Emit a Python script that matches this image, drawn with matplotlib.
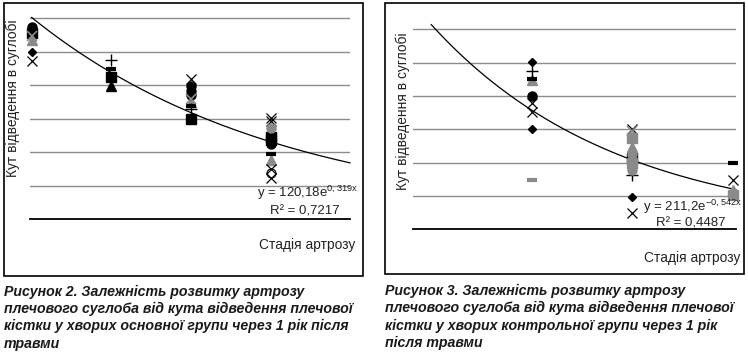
import numpy as np
import matplotlib
matplotlib.use('Agg')
import matplotlib.pyplot as plt
from matplotlib.patches import Rectangle

plt.rcParams['font.family'] = ['Liberation Sans', 'DejaVu Sans']
plt.rcParams['mathtext.fontset'] = 'custom'
plt.rcParams['mathtext.rm'] = 'Liberation Sans'
plt.rcParams['mathtext.it'] = 'Liberation Sans:italic'

# ---- data: left panel (main group) ----
left_stage = [1, 1, 1, 1, 1, 1,
              2, 2, 2, 2,
              3, 3, 3, 3, 3, 3, 3, 3, 3,
              4, 4, 4, 4, 4, 4, 4, 4, 4, 4, 4]
left_angle = [83.3, 80.8, 79.2, 77.8, 72.4, 68.7,
              69.0, 65.1, 61.6, 57.8,
              60.7, 57.5, 55.5, 54.0, 52.0, 50.6, 49.2, 47.7, 43.4,
              43.8, 42.4, 39.7, 35.6, 34.5, 32.5, 28.2, 25.7, 21.8, 20.0, 17.8]
left_series = [5, 1, 11, 2, 0, 3,
               6, 7, 1, 12,
               3, 5, 5, 5, 11, 2, 7, 6, 1,
               3, 3, 8, 1, 1, 5, 7, 2, 3, 13, 3]
left_fit = (120.18, -0.319)
left_r2 = '0,7217'

# ---- data: right panel (control group) ----
right_stage = [2, 2, 2, 2, 2, 2, 2, 2, 2,
               3, 3, 3, 3, 3, 3, 3, 3, 3, 3, 3, 3,
               4, 4, 4, 4, 4]
right_angle = [100.2, 95.0, 89.6, 90.0, 80.0, 75.6, 70.6, 60.0, 29.4,
               60.0, 58.8, 54.6, 49.6, 45.2, 43.0, 40.0, 40.0, 35.6, 32.6, 19.6, 9.6,
               39.6, 29.6, 23.6, 20.6, 21.5]
right_series = [0, 6, 2, 7, 5, 3, 3, 0, 10,
                3, 11, 9, 2, 8, 1, 3, 9, 8, 6, 0, 3,
                7, 3, 2, 9, 7]
right_fit = (211.2, -0.542)
right_r2 = '0,4487'

y_label = 'Кут відведення в суглобі'
x_label = 'Стадія артрозу'
left_caption = ['Рисунок 2. Залежність розвитку артрозу',
                'плечового суглоба від кута відведення плечової',
                'кістки у хворих основної групи через 1 рік після',
                'травми']
right_caption = ['Рисунок 3. Залежність розвитку артрозу',
                 'плечового суглоба від кута відведення плечової',
                 'кістки у хворих контрольної групи через 1 рік',
                 'після травми']

# marker styles for the series (grayscale Excel look)
GREY = '#8a8a8a'
STYLES = {
    0: dict(marker='D', ms=4.5, color='black'),
    1: dict(marker='s', ms=7.5, color='black'),
    2: dict(marker='^', ms=6.5, color=GREY),
    3: dict(marker='x', ms=7.5, color='black', mew=0.9),
    5: dict(marker='o', ms=6.5, color='black'),
    6: dict(marker='+', ms=8.5, color='black', mew=1.0),
    7: dict(marker='_', ms=6.5, color='black', mew=3),
    8: dict(marker='o', ms=6.5, color=GREY),
    9: dict(marker='s', ms=6.5, color=GREY),
    10: dict(marker='_', ms=7.5, color=GREY, mew=3),
    11: dict(marker='x', ms=6.5, color=GREY, mew=1.2),
    12: dict(marker='^', ms=6.5, color='black'),
    13: dict(marker='o', ms=6.5, color='black', mfc='none', mew=0.8),
}

W, H = 748, 353
fig = plt.figure(figsize=(W / 100, H / 100), dpi=100)


def px(x, y):
    return x / W, 1 - y / H


def draw_panel(rect, xlim, ylim, step, stage, angle, series, fit):
    x0, x1, ytop, ybot = rect
    ax = fig.add_axes([x0 / W, 1 - ybot / H, (x1 - x0) / W, (ybot - ytop) / H])
    ax.set_xlim(*xlim)
    ax.set_ylim(*ylim)
    for g in np.arange(step, ylim[1], step):
        ax.axhline(g, color='#8c8c8c', lw=1, zorder=1)
    ax.axhline(0, color='black', lw=1.3, zorder=1, clip_on=False)
    for s in sorted(set(series)):
        xs = [x for x, k in zip(stage, series) if k == s]
        ys = [y for y, k in zip(angle, series) if k == s]
        ax.plot(xs, ys, ls='none', zorder=3, clip_on=False, **STYLES[s])
    a, b = fit
    xx = np.linspace(1, xlim[1], 200)
    ax.plot(xx, a * np.exp(b * xx), color='black', lw=0.9, zorder=2, clip_on=False)
    for sp in ax.spines.values():
        sp.set_visible(False)
    ax.set_xticks([])
    ax.set_yticks([])
    ax.patch.set_alpha(0)
    return ax


# left panel
draw_panel((30, 350, 16.0, 219.3), (0.979, 4.995), (0, 88), 14.5,
           left_stage, left_angle, left_series, left_fit)
# right panel
draw_panel((413, 736, 21.0, 229.3), (0.818, 4.03), (0, 125), 20,
           right_stage, right_angle, right_series, right_fit)

# frames around each chart
for (bx0, by0, bx1, by1) in [(4, 3, 363, 276), (385, 3, 744, 274)]:
    fig.patches.append(Rectangle(px(bx0, by1), (bx1 - bx0) / W, (by1 - by0) / H,
                                 transform=fig.transFigure, fill=False,
                                 edgecolor='black', lw=1.2))

lab = dict(fontsize=9.9, color='#222222')
fig.text(*px(13, 98), y_label, rotation=90, ha='center', va='center', **lab)
fig.text(*px(403, 111), y_label, rotation=90, ha='center', va='center', **lab)
fig.text(*px(355, 245), x_label, ha='right', va='center', **lab)
fig.text(*px(740, 258), x_label, ha='right', va='center', **lab)

# trend equations
eq = dict(fontsize=9.5, color='#222222', ha='left', va='baseline')
fig.text(*px(257, 197), r'y = 120,18e$\mathregular{^{0,319x}}$', **eq)
fig.text(*px(270, 214), 'R² = ' + left_r2, **eq)
fig.text(*px(643, 211), r'y = 211,2e$\mathregular{^{-0,542x}}$', **eq)
fig.text(*px(656, 226.5), 'R² = ' + right_r2, **eq)

# captions
cap = dict(fontsize=10.2, fontweight='bold', fontstyle='italic', color='#1a1a1a',
           ha='left', va='center')
for i, line in enumerate(left_caption):
    fig.text(*px(4, 292 + i * 17.2), line, **cap)
for i, line in enumerate(right_caption):
    fig.text(*px(385, 291 + i * 17.4), line, **cap)

fig.savefig('out.png', dpi=100)
